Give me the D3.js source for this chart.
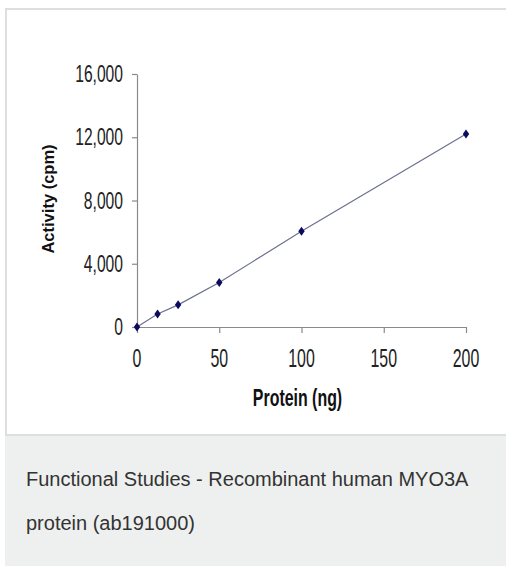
<!DOCTYPE html>
<html><head><meta charset="utf-8">
<script src="https://cdn.jsdelivr.net/npm/d3@7/dist/d3.min.js"></script>
<style>body{margin:0;background:#fff;}svg{display:block;}</style>
</head><body>
<svg id="c" width="506" height="567"></svg>
<script>
const proteinNg = [0, 12.5, 25, 50, 100, 200];
const activityCpm = [0, 820, 1400, 2820, 6050, 12200];
const xTicks = [0, 50, 100, 150, 200];
const yTicks = [0, 4000, 8000, 12000, 16000];
const xTitle = "Protein (ng)";
const yTitle = "Activity (cpm)";
const captionLines = ["Functional Studies - Recombinant human MYO3A", "protein (ab191000)"];

const svg = d3.select("#c");
// frame
svg.append("rect").attr("x",0).attr("y",0).attr("width",506).attr("height",567).attr("fill","#fff");
svg.append("rect").attr("x",6).attr("y",9).attr("width",510).attr("height",426)
  .attr("fill","#fff").attr("stroke","#dedede").attr("stroke-width",2);
svg.append("rect").attr("x",5).attr("y",436).attr("width",501).attr("height",130).attr("fill","#eef0ef");

const x = d3.scaleLinear().domain([0,200]).range([137,466]);
const y = d3.scaleLinear().domain([0,16000]).range([327,74]);

const axColor = "#8a8a8a";
const gx = svg.append("g").attr("transform","translate(0,327)")
  .call(d3.axisBottom(x).tickValues(xTicks).tickSize(6).tickSizeOuter(0).tickFormat(""));
const gy = svg.append("g").attr("transform","translate(137,0)")
  .call(d3.axisLeft(y).tickValues(yTicks).tickSize(5).tickSizeOuter(0).tickFormat(""));
[gx,gy].forEach(g=>{
  g.select(".domain").attr("stroke",axColor).attr("stroke-width",1.2);
  g.selectAll(".tick line").attr("stroke",axColor).attr("stroke-width",1.2);
});

const fmt = d3.format(",");
svg.append("g").selectAll("g").data(yTicks).join("g")
  .attr("transform", d=>`translate(123,${y(d)+8}) scale(0.68,1)`)
  .append("text").attr("text-anchor","end")
  .attr("font-family","'Liberation Sans', Arial, sans-serif").attr("font-size",23)
  .attr("fill","#222").text(d=>fmt(d));

svg.append("g").selectAll("g").data(xTicks).join("g")
  .attr("transform", d=>`translate(${x(d)},367) scale(0.6,1)`)
  .append("text").attr("text-anchor","middle")
  .attr("font-family","'Liberation Sans', Arial, sans-serif").attr("font-size",26.5)
  .attr("fill","#222").text(d=>fmt(d));

// titles
svg.append("g").attr("transform","translate(297.5,406) scale(0.65,1)")
  .append("text").attr("text-anchor","middle")
  .attr("font-family","'Liberation Sans', Arial, sans-serif").attr("font-weight","bold")
  .attr("font-size",24.5).attr("fill","#111").text(xTitle);
svg.append("text").attr("transform","translate(54,199) rotate(-90)")
  .attr("text-anchor","middle")
  .attr("font-family","'Liberation Sans', Arial, sans-serif").attr("font-weight","bold")
  .attr("font-size",16.5).attr("fill","#111").text(yTitle);

// line + markers
const pts = proteinNg.map((p,i)=>({p, a: activityCpm[i]}));
svg.append("path").datum(pts)
  .attr("d", d3.line().x(d=>x(d.p)).y(d=>y(d.a)))
  .attr("fill","none").attr("stroke","#6c7090").attr("stroke-width",1.2);
svg.append("g").selectAll("path").data(pts).join("path")
  .attr("transform", d=>`translate(${x(d.p)},${y(d.a)})`)
  .attr("d","M0,-4.5L3.2,0L0,4.5L-3.2,0Z")
  .attr("fill","#0a0a5e");

// caption
svg.append("g").selectAll("text").data(captionLines).join("text")
  .attr("x",26).attr("y",(d,i)=>486+i*44)
  .attr("font-family","'Liberation Sans', Arial, sans-serif").attr("font-size",20)
  .attr("fill","#333").text(d=>d);
</script>
</body></html>
